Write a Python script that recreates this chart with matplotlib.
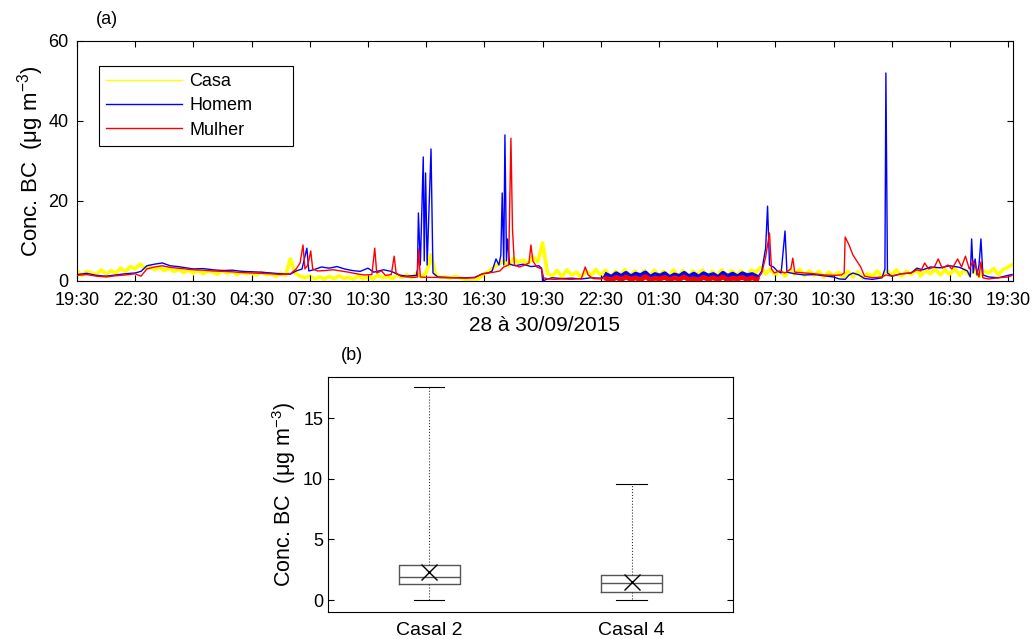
import numpy as np
import matplotlib
matplotlib.use('Agg')
import matplotlib.pyplot as plt
from matplotlib.lines import Line2D

plt.rcParams['font.family'] = ['Liberation Sans', 'DejaVu Sans']
plt.rcParams['mathtext.fontset'] = 'custom'
plt.rcParams['mathtext.rm'] = 'Liberation Sans'
plt.rcParams['mathtext.it'] = 'Liberation Sans:italic'
plt.rcParams['font.size'] = 13

# hours after 19:30 on 28/09
tick_hours = [0, 3, 6, 9, 12, 15, 18, 21, 24, 27, 30, 33, 36, 39, 42, 45, 48]
tick_labels = ['19:30', '22:30', '01:30', '04:30', '07:30', '10:30', '13:30', '16:30',
               '19:30', '22:30', '01:30', '04:30', '07:30', '10:30', '13:30', '16:30', '19:30']

# Casa: one reading every 15 min
casa_v = [2.6, 1.4, 2.4, 2.0, 1.6, 2.8, 1.7, 2.5, 2.0, 3.2, 2.4, 3.6,
          3.0, 4.2, 3.2, 3.8, 2.8, 3.4, 2.6, 3.1, 2.4, 2.9, 2.1, 2.7, 2.0, 2.6, 1.8, 2.5,
          2.2, 1.7, 2.6, 1.9, 2.4, 1.6, 2.3, 1.8, 2.1, 1.5, 2.2, 1.6, 1.8, 1.2, 2.0, 1.4,
          5.5, 2.0, 1.2, 0.8, 1.2, 0.6, 1.0, 0.5, 1.1, 0.6, 1.3, 0.7, 0.9, 0.5, 1.2, 0.6,
          1.0, 0.5, 1.4, 0.8, 1.1, 0.6, 1.5, 0.9, 1.6, 0.8, 1.9, 1.0, 2.0, 6.5, 1.2, 0.9,
          1.0, 0.7, 1.1, 0.8, 0.4, 0.0, 0.1, 0.8, 1.8, 2.4, 3.5, 4.2, 5.0, 3.8, 5.6, 4.6,
          5.2, 4.3, 6.0, 4.8, 9.5, 2.0, 1.2, 2.6, 1.0, 2.8, 1.5, 2.2, 0.8, 2.5, 1.3, 2.9,
          1.4, 2.7, 0.9, 2.4, 1.6, 2.8, 1.1, 2.5, 1.3, 2.6, 0.9, 2.7, 1.5, 2.4, 1.0, 2.8,
          1.2, 2.6, 0.8, 2.5, 1.6, 2.7, 1.1, 2.4, 1.3, 2.8, 0.9, 2.6, 1.5, 2.5, 1.2, 2.7,
          2.2, 3.4, 1.8, 2.9, 1.5, 2.6, 1.2, 2.8, 1.6, 2.9, 1.3, 2.5, 1.4, 2.4, 0.9, 2.2,
          1.2, 2.1, 0.8, 2.4, 1.0, 2.3, 0.7, 1.8, 1.2, 2.5, 1.0, 2.6, 1.5, 2.8, 1.2, 2.4,
          1.6, 2.9, 1.3, 2.7, 1.8, 3.0, 1.5, 2.8, 1.6, 3.2, 1.4, 2.9, 1.5, 2.7, 1.1, 2.5,
          2.0, 3.1, 1.6, 2.9, 3.5, 4.2]

homem_t = [0, 0.5, 1, 1.5, 2, 2.5, 3, 3.3, 3.6, 4, 4.4, 4.8, 5.2, 5.6, 6, 6.5, 7, 7.5, 8, 8.5,
           9, 9.5, 10, 10.5, 11, 11.3, 11.6, 11.85, 11.95, 12.2, 12.6, 13, 13.4, 13.8, 14.2,
           14.6, 15, 15.3, 15.8, 16.2, 16.6, 17, 17.5, 17.55, 17.6, 17.7, 17.85, 17.9, 17.97,
           18.05, 18.25, 18.35, 18.6, 19, 19.5, 20, 20.5, 20.9, 21.2, 21.4, 21.6, 21.75, 21.85,
           21.92, 22.0, 22.06, 22.14, 22.2, 22.3, 22.6, 23, 23.4, 23.8, 23.95, 24.0, 24.2, 24.5,
           25, 25.5, 26, 26.5, 27, 27.2,
           35.1, 35.3, 35.5, 35.6, 35.7, 35.9, 36.1, 36.3, 36.5, 36.6, 37, 37.5, 38, 38.5, 39,
           39.3, 39.6, 39.8, 40, 40.3, 40.6, 41, 41.5, 41.65, 41.7, 41.78, 42, 42.5, 43, 43.3,
           43.6, 44, 44.5, 45, 45.5, 45.9, 46.05, 46.12, 46.2, 46.3, 46.4, 46.5, 46.6, 46.7,
           47, 47.5, 48, 48.2]
homem_v = [1.6, 1.9, 1.4, 1.2, 1.5, 1.8, 2.0, 2.4, 3.8, 4.2, 4.5, 3.8, 3.6, 3.3, 3.0, 3.1, 2.8,
           2.6, 2.7, 2.4, 2.3, 2.2, 2.0, 1.8, 1.7, 2.5, 3.0, 8.2, 2.5, 2.8, 3.5, 3.2, 3.6, 3.0,
           2.6, 2.4, 3.2, 2.2, 2.8, 2.4, 1.5, 1.2, 1.4, 3.0, 17.0, 4.0, 31.0, 5.0, 27.0, 4.0,
           33.0, 2.0, 1.0, 0.9, 0.8, 0.8, 0.9, 1.8, 2.0, 2.5, 5.5, 4.0, 6.5, 22.0, 4.0, 36.5,
           5.0, 10.5, 4.2, 3.8, 4.2, 3.6, 3.8, 3.2, 0.0, 0.4, 0.8, 0.6, 0.7, 0.5, 0.8, 0.7, 1.2,
           1.0, 2.5, 8.2, 18.7, 4.0, 3.5, 2.5, 2.0, 12.5, 2.2, 1.8, 1.5, 1.6, 1.3, 1.0, 0.5,
           0.4, 1.5, 2.0, 1.5, 0.6, 0.4, 0.8, 3.0, 52.0, 2.0, 1.2, 1.8, 2.0, 3.2, 2.8, 3.5,
           3.3, 3.8, 3.4, 2.5, 1.0, 10.5, 2.0, 5.5, 1.5, 4.0, 10.5, 1.5, 1.0, 0.8, 1.4, 1.6]

mulher_t = [0, 0.5, 1, 1.5, 2, 2.5, 3, 3.3, 3.6, 4, 4.4, 4.8, 5.2, 5.6, 6, 6.5, 7, 7.5, 8, 8.5,
            9, 9.5, 10, 10.5, 11, 11.3, 11.5, 11.65, 11.75, 11.9, 12.05, 12.15, 12.4, 12.8,
            13.2, 13.6, 14, 14.4, 14.8, 15.2, 15.35, 15.45, 15.7, 15.9, 16.2, 16.35, 16.45,
            16.7, 17, 17.4, 17.55, 17.6, 17.7, 18, 18.5, 19, 19.5, 20, 20.5, 20.9, 21.2, 21.5,
            21.8, 22.0, 22.25, 22.37, 22.45, 22.55, 22.8, 23, 23.3, 23.4, 23.5, 23.7, 23.95,
            24.05, 24.3, 24.6, 25, 25.5, 26, 26.2, 26.35, 26.6, 27, 27.2,
            35.1, 35.3, 35.5, 35.7, 35.8, 35.95, 36.2, 36.5, 36.8, 36.9, 37.0, 37.5, 38, 38.5,
            39, 39.4, 39.55, 39.6, 39.8, 40.0, 40.2, 40.4, 40.6, 41, 41.5, 41.7, 42, 42.5, 43,
            43.3, 43.5, 43.7, 43.9, 44.2, 44.4, 44.6, 44.9, 45.1, 45.4, 45.6, 45.8, 46.0, 46.2,
            46.4, 46.5, 46.6, 46.7, 47, 47.5, 48, 48.2]
mulher_v = [1.4, 1.6, 1.2, 1.0, 1.3, 1.5, 1.8, 1.2, 3.0, 3.5, 3.8, 3.4, 3.2, 3.0, 2.8, 2.7, 2.5,
            2.4, 2.3, 2.1, 2.0, 1.9, 1.8, 1.6, 1.8, 3.0, 4.5, 9.0, 3.0, 4.0, 7.5, 3.0, 2.5, 2.6,
            2.8, 2.5, 2.2, 1.8, 1.5, 1.6, 8.2, 2.0, 2.5, 1.4, 1.6, 6.2, 2.0, 1.2, 1.0, 0.9, 1.0,
            8.0, 1.0, 0.9, 0.9, 0.8, 0.8, 0.7, 0.8, 1.8, 2.0, 2.2, 2.5, 3.5, 4.0, 35.7, 13.0,
            4.0, 3.5, 3.8, 4.5, 9.0, 5.0, 3.5, 3.0, 0.8, 0.5, 0.4, 0.5, 0.4, 0.6, 3.5, 1.5, 0.6,
            0.5, 0.8,
            0.6, 2.0, 6.0, 12.0, 3.0, 2.0, 2.5, 2.0, 3.0, 5.7, 2.2, 2.0, 1.8, 1.5, 1.4, 1.5, 2.0,
            11.0, 9.0, 6.5, 5.0, 3.5, 1.2, 0.8, 1.0, 1.5, 1.2, 1.8, 2.0, 2.8, 2.5, 4.5, 3.0, 3.5,
            5.5, 3.2, 4.0, 3.0, 5.5, 3.5, 6.2, 3.0, 5.0, 2.5, 1.0, 4.8, 0.8, 0.5, 0.8, 1.0, 1.4]

# second night, one reading every 15 min, very noisy
noite_t0 = 27.3
homem_noite = [1.5, 0.9, 1.8, 1.1, 1.9, 1.0, 1.7, 1.3, 2.0, 0.9, 1.6, 1.2, 1.8, 0.8, 1.5, 1.1,
               1.9, 1.0, 1.7, 0.9, 1.8, 1.2, 1.6, 0.8, 1.9, 1.1, 1.7, 1.0, 1.8, 1.3, 1.6, 1.0]
mulher_noite = [0.6, 0.2, 0.9, 0.3, 1.0, 0.4, 0.8, 0.2, 1.1, 0.3, 0.7, 0.5, 0.9, 0.2, 0.8, 0.4,
                1.0, 0.3, 0.6, 0.2, 0.9, 0.4, 0.8, 0.3, 1.0, 0.2, 0.7, 0.5, 0.9, 0.3, 0.8, 0.4]

# box plot (b)
casais = ['Casal 2', 'Casal 4']
whis_low = [0.0, 0.0]
q1 = [1.3, 0.7]
mediana = [1.9, 1.4]
q3 = [2.9, 2.1]
whis_high = [17.6, 9.6]
media = [2.3, 1.5]

fig = plt.figure(figsize=(10.35, 6.39), dpi=100)

ax = fig.add_axes([0.0744, 0.5603, 0.9043, 0.3756])
casa_h = np.arange(len(casa_v)) * 0.25
noite_h = noite_t0 + np.arange(len(homem_noite)) * 0.25
ax.plot(casa_h, casa_v, color='#FFFF00', lw=2.6, zorder=1)
ax.plot(homem_t, homem_v, color='#0000FF', lw=1.0, zorder=2)
ax.plot(noite_h, homem_noite, color='#0000FF', lw=3.5, zorder=2)
ax.plot(mulher_t, mulher_v, color='#FF0000', lw=1.0, zorder=3)
ax.plot(noite_h, mulher_noite, color='#FF0000', lw=3.5, zorder=3)

ax.set_xlim(0, 48.25)
ax.set_ylim(0, 60)
ax.set_xticks(tick_hours)
ax.set_xticklabels(tick_labels)
ax.set_yticks([0, 20, 40, 60])
ax.tick_params(direction='in', top=True, right=True, length=4, width=0.8)
ax.tick_params(axis='x', pad=8)
ax.tick_params(axis='y', pad=6)
ax.set_ylabel(r'Conc. BC  (μg m$^{-3}$)', fontsize=16, labelpad=2)
ax.set_xlabel('28 à 30/09/2015', fontsize=15, labelpad=5)
for s in ax.spines.values():
    s.set_linewidth(0.8)

handles = [Line2D([], [], color='#FFFF00', lw=1.0),
           Line2D([], [], color='#0000FF', lw=1.0),
           Line2D([], [], color='#FF0000', lw=1.0)]
leg = ax.legend(handles, ['Casa', 'Homem', 'Mulher'], loc='upper left',
                bbox_to_anchor=(0.0235, 0.521, 0.2073, 0.375),
                mode='expand', fancybox=False, edgecolor='black', framealpha=1, fontsize=13,
                handlelength=4.2, handletextpad=0.4, labelspacing=0.4, borderpad=0.4,
                borderaxespad=0)
leg.get_frame().set_linewidth(0.8)
fig.text(0.1035, 0.970, '(a)', fontsize=13, ha='center', va='center')

# (b)
bx = fig.add_axes([0.317, 0.042, 0.391, 0.368])
stats = []
for i in range(len(casais)):
    stats.append({'label': casais[i], 'whislo': whis_low[i], 'q1': q1[i], 'med': mediana[i],
                  'q3': q3[i], 'whishi': whis_high[i], 'mean': media[i]})
bx.bxp(stats, positions=[1, 2], widths=0.3, showmeans=True, showfliers=False,
       boxprops=dict(color='#555555', lw=1.0),
       medianprops=dict(color='#555555', lw=1.0),
       whiskerprops=dict(color='#333333', lw=0.8, linestyle=':'),
       capprops=dict(color='black', lw=0.8),
       meanprops=dict(marker='x', markersize=11, markeredgecolor='black', markeredgewidth=1.0))
bx.set_xlim(0.5, 2.5)
bx.set_ylim(-1, 18.4)
bx.set_yticks([0, 5, 10, 15])
bx.tick_params(axis='y', direction='in', right=True, length=4, width=0.8)
bx.tick_params(axis='x', length=0, pad=7, labelsize=14)
bx.set_ylabel(r'Conc. BC  (μg m$^{-3}$)', fontsize=15.5, labelpad=4)
for s in bx.spines.values():
    s.set_linewidth(0.8)
fig.text(0.340, 0.444, '(b)', fontsize=13, ha='center', va='center')

fig.savefig('out.png', dpi=100)
